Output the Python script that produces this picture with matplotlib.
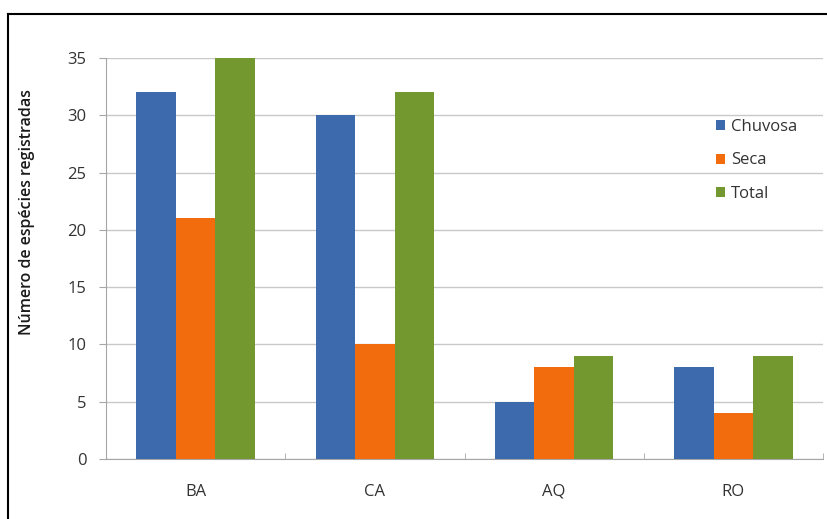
import matplotlib.pyplot as plt
from matplotlib.lines import Line2D
import numpy as np

# Species counts per site, by season
sites = ["BA", "CA", "AQ", "RO"]
chuvosa = [32, 30, 5, 8]
seca = [21, 10, 8, 4]
total = [35, 32, 9, 9]
series_names = ["Chuvosa", "Seca", "Total"]
colors = ["#3d69ad", "#f26b0c", "#72982f"]

plt.rcParams["font.family"] = ["Open Sans", "DejaVu Sans"]

fig = plt.figure(figsize=(8.27, 5.19), dpi=100)
ax = fig.add_axes([106 / 827, 1 - 459 / 519, 717 / 827, 401 / 519])

x = np.arange(len(sites))
w = 0.22
for i, (vals, name, c) in enumerate(zip([chuvosa, seca, total], series_names, colors)):
    ax.bar(x + (i - 1) * w, vals, width=w, color=c, label=name, zorder=3)

ax.set_xlim(-0.5, len(sites) - 0.5)
ax.set_ylim(0, 35)
ax.set_yticks(range(0, 36, 5))
ax.set_xticks(x)
ax.set_xticklabels(sites)
ax.set_xticks(np.arange(-0.5, len(sites), 1), minor=True)
ax.tick_params(axis="x", which="major", length=0, pad=18, labelsize=12, colors="#333333")
ax.tick_params(axis="x", which="minor", length=4, color="#a6a6a6", direction="in")
ax.tick_params(axis="y", length=5, color="#a6a6a6", pad=9, labelsize=12, labelcolor="#333333")
ax.grid(axis="y", color="#c8c8c8", linewidth=1, zorder=0)

for s in ["top", "right"]:
    ax.spines[s].set_visible(False)
ax.spines["left"].set_color("#a6a6a6")
ax.spines["bottom"].set_color("#a6a6a6")

ax.set_ylabel("Número de espécies registradas", fontsize=11.5, color="#1a1a1a",
              fontweight="semibold")
ax.yaxis.set_label_coords(-71 / 717, 0.616)

ax.legend(loc="upper left", bbox_to_anchor=(0.83, 0.885), frameon=False, fontsize=12,
          handlelength=0.55, handleheight=0.55, handletextpad=0.35, labelspacing=1.04,
          labelcolor="#333333")

# outer frame around the chart
fig.add_artist(Line2D([8 / 827, 8 / 827], [0, 1 - 14 / 519], color="black", lw=1.5))
fig.add_artist(Line2D([8 / 827, 1], [1 - 14 / 519, 1 - 14 / 519], color="black", lw=1.5))

fig.savefig("out.png", dpi=100)
